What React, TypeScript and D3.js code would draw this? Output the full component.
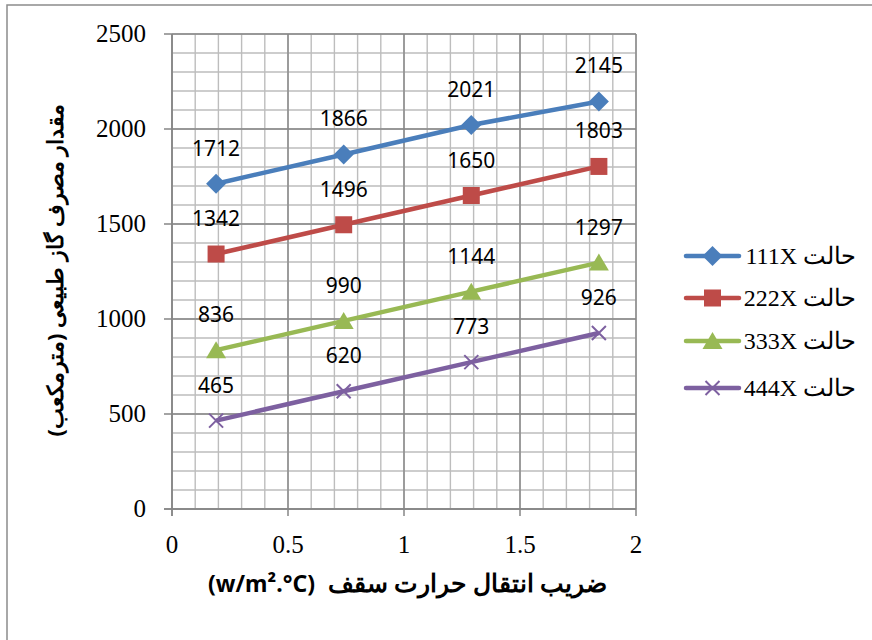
import React from "react";
import * as d3 from "d3";

const xValues = [0.19, 0.74, 1.29, 1.84];
const seriesNames = ["حالت 111X", "حالت 222X", "حالت 333X", "حالت 444X"];
const s111 = [1712, 1866, 2021, 2145];
const s222 = [1342, 1496, 1650, 1803];
const s333 = [836, 990, 1144, 1297];
const s444 = [465, 620, 773, 926];
const seriesValues = [s111, s222, s333, s444];
const colors = ["#4a7ebb", "#be4b48", "#98b954", "#7d60a0"];
const markers = ["diamond", "square", "triangle", "x"];
const xTicks = [0, 0.5, 1, 1.5, 2];
const xTickLabels = ["0", "0.5", "1", "1.5", "2"];
const yTicks = [0, 500, 1000, 1500, 2000, 2500];
const yTitle = "مقدار مصرف گاز طبیعی (مترمکعب)";
const xTitleFa = "ضریب انتقال حرارت سقف";
const xTitleUnit = "(w/m².°C)";

const W = 872, H = 640;
const x = d3.scaleLinear().domain([0, 2]).range([172, 636]);
const y = d3.scaleLinear().domain([0, 2500]).range([509, 34]);

function Marker({ type, cx, cy, color }: { type: string; cx: number; cy: number; color: string }) {
  if (type === "diamond") {
    const r = 10;
    return <path d={`M${cx},${cy - r}L${cx + r},${cy}L${cx},${cy + r}L${cx - r},${cy}Z`} fill={color} />;
  }
  if (type === "square") {
    const r = 8.5;
    return <rect x={cx - r} y={cy - r} width={2 * r} height={2 * r} fill={color} />;
  }
  if (type === "triangle") {
    const r = 9;
    return <path d={`M${cx},${cy - r}L${cx + r + 1},${cy + r - 1}L${cx - r - 1},${cy + r - 1}Z`} fill={color} />;
  }
  const r = 7;
  return (
    <path d={`M${cx - r},${cy - r}L${cx + r},${cy + r}M${cx - r},${cy + r}L${cx + r},${cy - r}`} stroke={color} strokeWidth={2} />
  );
}

export default function App() {
  const minorX = d3.range(0, 2.0001, 0.1);
  const minorY = d3.range(0, 2501, 100);
  const line = d3.line<number>().x((_, i) => x(xValues[i])).y((v) => y(v));
  const legendY = [256, 298, 341, 388];
  return (
    <svg width={W} height={H} style={{ position: "absolute", left: 0, top: 0, background: "#fff" }}>
      <rect x={0} y={0} width={W} height={H} fill="#fff" />
      <rect x={7} y={5} width={W + 20} height={H + 20} fill="none" stroke="#8c8c8c" strokeWidth={1.5} />
      {minorX.map((v, i) => (
        <line key={"mx" + i} x1={x(v)} x2={x(v)} y1={y(0)} y2={y(2500)} stroke="#bdbdbd" strokeWidth={1.4} />
      ))}
      {minorY.map((v, i) => (
        <line key={"my" + i} x1={x(0)} x2={x(2)} y1={y(v)} y2={y(v)} stroke="#bdbdbd" strokeWidth={1.4} />
      ))}
      {xTicks.map((v, i) => (
        <line key={"Mx" + i} x1={x(v)} x2={x(v)} y1={y(0)} y2={y(2500)} stroke="#868686" strokeWidth={1.4} />
      ))}
      {yTicks.map((v, i) => (
        <line key={"My" + i} x1={x(0)} x2={x(2)} y1={y(v)} y2={y(v)} stroke="#868686" strokeWidth={1.4} />
      ))}
      <line x1={x(0)} x2={x(0)} y1={y(0) + 7} y2={y(2500)} stroke="#868686" strokeWidth={1.5} />
      <line x1={x(0) - 8} x2={x(2)} y1={y(0)} y2={y(0)} stroke="#868686" strokeWidth={1.5} />
      {yTicks.map((v, i) => (
        <line key={"yt" + i} x1={x(0) - 8} x2={x(0)} y1={y(v)} y2={y(v)} stroke="#868686" strokeWidth={1.5} />
      ))}
      {xTicks.map((v, i) => (
        <line key={"xt" + i} x1={x(v)} x2={x(v)} y1={y(0)} y2={y(0) + 7} stroke="#868686" strokeWidth={1.5} />
      ))}
      {yTicks.map((v, i) => (
        <text key={"yl" + i} x={146} y={y(v) + 8} textAnchor="end" fontFamily="Liberation Serif" fontSize={25} fill="#000">
          {v}
        </text>
      ))}
      {xTicks.map((v, i) => (
        <text key={"xl" + i} x={x(v)} y={553} textAnchor="middle" fontFamily="Liberation Serif" fontSize={25} fill="#000">
          {xTickLabels[i]}
        </text>
      ))}
      {seriesValues.map((vals, si) => (
        <g key={"s" + si}>
          <path d={line(vals) || ""} fill="none" stroke={colors[si]} strokeWidth={4.5} strokeLinejoin="round" />
          {vals.map((v, i) => (
            <Marker key={i} type={markers[si]} cx={x(xValues[i])} cy={y(v)} color={colors[si]} />
          ))}
          {vals.map((v, i) => (
            <text key={"l" + i} x={x(xValues[i])} y={y(v) - 28} textAnchor="middle" fontFamily="Noto Sans" fontSize={21} fill="#000">
              {v}
            </text>
          ))}
        </g>
      ))}
      {seriesNames.map((n, i) => (
        <g key={"lg" + i}>
          <line x1={686} x2={739} y1={legendY[i]} y2={legendY[i]} stroke={colors[i]} strokeWidth={4.5} strokeLinecap="round" />
          <Marker type={markers[i]} cx={712.5} cy={legendY[i]} color={colors[i]} />
          <text x={856} y={legendY[i] + 8} textAnchor="start" direction="rtl" fontFamily="Liberation Serif" fontSize={24} fill="#000">
            {n}
          </text>
        </g>
      ))}
      <text
        transform={`translate(63,${270}) rotate(-90)`}
        textAnchor="middle"
        fontFamily="Noto Sans"
        fontWeight="bold"
        fontSize={22}
        fill="#000"
        direction="rtl"
      >
        {yTitle}
      </text>
      <text x={315} y={592} textAnchor="end" fontFamily="Noto Sans" fontWeight="bold" fontSize={23} fill="#000">
        {xTitleUnit}
      </text>
      <text x={328} y={592} textAnchor="start" fontFamily="Noto Sans" fontWeight="bold" fontSize={24.5} fill="#000">
        {xTitleFa}
      </text>
    </svg>
  );
}
